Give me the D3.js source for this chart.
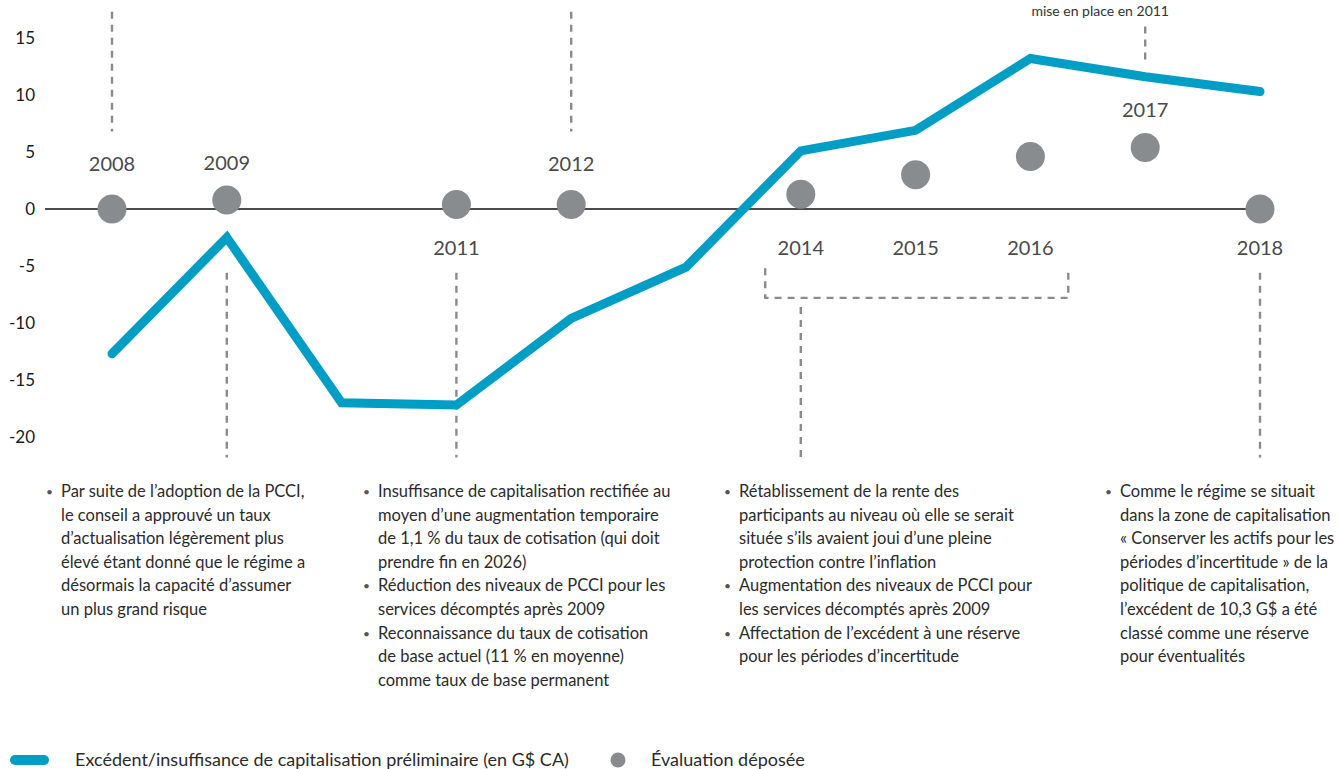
<!DOCTYPE html>
<html>
<head>
<meta charset="utf-8">
<script src="https://cdn.jsdelivr.net/npm/d3@7"></script>
<style>
  html, body { margin: 0; padding: 0; background: #fff; }
  svg { display: block; font-family: Lato, "Open Sans", sans-serif; }
</style>
</head>
<body>
<svg id="chart" width="1339" height="769"></svg>
<script>
// ---------------- DATA ----------------
const years = [2008, 2009, 2010, 2011, 2012, 2013, 2014, 2015, 2016, 2017, 2018];
const fundingValues = [-12.7, -2.5, -17.0, -17.2, -9.6, -5.1, 5.1, 6.9, 13.2, 11.6, 10.3];
const filedYears = [2008, 2009, 2011, 2012, 2014, 2015, 2016, 2017, 2018];
const filedValues = [0, 0.8, 0.4, 0.4, 1.3, 3.0, 4.6, 5.4, 0];
const filedLabelSide = ["above", "above", "below", "above", "below", "below", "below", "above", "below"];
const yTicks = [-20, -15, -10, -5, 0, 5, 10, 15];
const legendLabels = ["Excédent/insuffisance de capitalisation préliminaire (en G$ CA)", "Évaluation déposée"];
const topNote = "mise en place en 2011";

// connectors (in data units: year, value)
const connectorYears = [2008, 2012, 2017, 2009, 2011, 2018, 2014];
const connectorFrom = [17.3, 17.3, 16.0, -5.6, -5.6, -5.6, -8.6];
const connectorTo = [6.8, 6.8, 12.8, -21.8, -21.8, -21.8, -21.8];
const bracketYears = [2013.69, 2016.33];
const bracketValues = [-5.2, -7.8];

const notes = [
  [["Par suite de l’adoption de la PCCI,", "le conseil a approuvé un taux", "d’actualisation légèrement plus", "élevé étant donné que le régime a", "désormais la capacité d’assumer", "un plus grand risque"]],
  [["Insuffisance de capitalisation rectifiée au", "moyen d’une augmentation temporaire", "de 1,1 % du taux de cotisation (qui doit", "prendre fin en 2026)"],
   ["Réduction des niveaux de PCCI pour les", "services décomptés après 2009"],
   ["Reconnaissance du taux de cotisation", "de base actuel (11 % en moyenne)", "comme taux de base permanent"]],
  [["Rétablissement de la rente des", "participants au niveau où elle se serait", "située s’ils avaient joui d’une pleine", "protection contre l’inflation"],
   ["Augmentation des niveaux de PCCI pour", "les services décomptés après 2009"],
   ["Affectation de l’excédent à une réserve", "pour les périodes d’incertitude"]],
  [["Comme le régime se situait", "dans la zone de capitalisation", "« Conserver les actifs pour les", "périodes d’incertitude » de la", "politique de capitalisation,", "l’excédent de 10,3 G$ a été", "classé comme une réserve", "pour éventualités"]]
];

// ---------------- LAYOUT ----------------
const BLUE = "#009ec5";
const GREY = "#898c8e";
const svg = d3.select("#chart");

const x = d3.scaleLinear().domain([2008, 2018]).range([112, 1260]);
const y = d3.scaleLinear().domain([-20, 15]).range([437, 38]);

// y axis
const yAxis = d3.axisLeft(y).tickValues(yTicks).tickSize(0).tickPadding(0).tickFormat(d => String(d));
const gy = svg.append("g").attr("transform", "translate(35,0)").call(yAxis);
gy.select(".domain").remove();
gy.selectAll("text").attr("font-size", 17).attr("fill", "#1a1a1a").attr("font-family", "Lato, sans-serif");

// connectors
const dash = "7,6";
svg.append("g").selectAll("line").data(connectorYears).join("line")
  .attr("x1", d => x(d)).attr("x2", d => x(d))
  .attr("y1", (d, i) => y(connectorFrom[i])).attr("y2", (d, i) => y(connectorTo[i]))
  .attr("stroke", GREY).attr("stroke-width", 2.4).attr("stroke-dasharray", dash);

svg.append("path")
  .attr("d", d3.line()([[x(bracketYears[0]), y(bracketValues[0])], [x(bracketYears[0]), y(bracketValues[1])],
                        [x(bracketYears[1]), y(bracketValues[1])], [x(bracketYears[1]), y(bracketValues[0])]]))
  .attr("fill", "none").attr("stroke", GREY).attr("stroke-width", 2.4).attr("stroke-dasharray", dash);

// zero line
svg.append("line").attr("x1", 45).attr("x2", x(2018)).attr("y1", y(0)).attr("y2", y(0))
  .attr("stroke", "#111").attr("stroke-width", 1.6);

// blue line
svg.append("path")
  .datum(years.map((yr, i) => [yr, fundingValues[i]]))
  .attr("d", d3.line().x(d => x(d[0])).y(d => y(d[1])))
  .attr("fill", "none").attr("stroke", BLUE).attr("stroke-width", 9)
  .attr("stroke-linecap", "round").attr("stroke-linejoin", "miter");

// filed valuation dots
svg.append("g").selectAll("circle").data(filedYears).join("circle")
  .attr("cx", d => x(d)).attr("cy", (d, i) => y(filedValues[i])).attr("r", 14.5)
  .attr("fill", GREY);

// year labels
svg.append("g").selectAll("text").data(filedYears).join("text")
  .attr("x", d => x(d))
  .attr("y", (d, i) => filedLabelSide[i] === "above"
        ? Math.min(y(3.3), y(filedValues[i]) - 30)
        : y(-4.0))
  .attr("text-anchor", "middle").attr("font-size", 20).attr("fill", "#4a4a4a")
  .text(d => d);

// top note
svg.append("text").attr("x", x(2017) - 45).attr("y", 16).attr("text-anchor", "middle")
  .attr("font-size", 14).attr("fill", "#333").text(topNote);

// notes
const colBullet = [46, 363, 724, 1105];
const lineH = 23.6;
const firstBase = 497;
notes.forEach((col, ci) => {
  const g = svg.append("g");
  let row = 0;
  col.forEach(bullet => {
    g.append("text").attr("x", colBullet[ci]).attr("y", firstBase + row * lineH - 1)
      .attr("font-size", 12).attr("fill", "#555").text("•");
    bullet.forEach(line => {
      g.append("text").attr("x", colBullet[ci] + 15).attr("y", firstBase + row * lineH)
        .attr("font-size", 16.5).attr("fill", "#2b2b2b").text(line);
      row++;
    });
  });
});

// legend
const lg = svg.append("g");
lg.append("rect").attr("x", 10).attr("y", 755).attr("width", 39).attr("height", 10).attr("rx", 5)
  .attr("fill", BLUE);
lg.append("text").attr("x", 75).attr("y", 766).attr("font-size", 18).attr("fill", "#2b2b2b").text(legendLabels[0]);
lg.append("circle").attr("cx", 618).attr("cy", 760).attr("r", 7.5).attr("fill", GREY);
lg.append("text").attr("x", 651).attr("y", 766).attr("font-size", 18).attr("fill", "#2b2b2b").text(legendLabels[1]);
</script>
</body>
</html>
